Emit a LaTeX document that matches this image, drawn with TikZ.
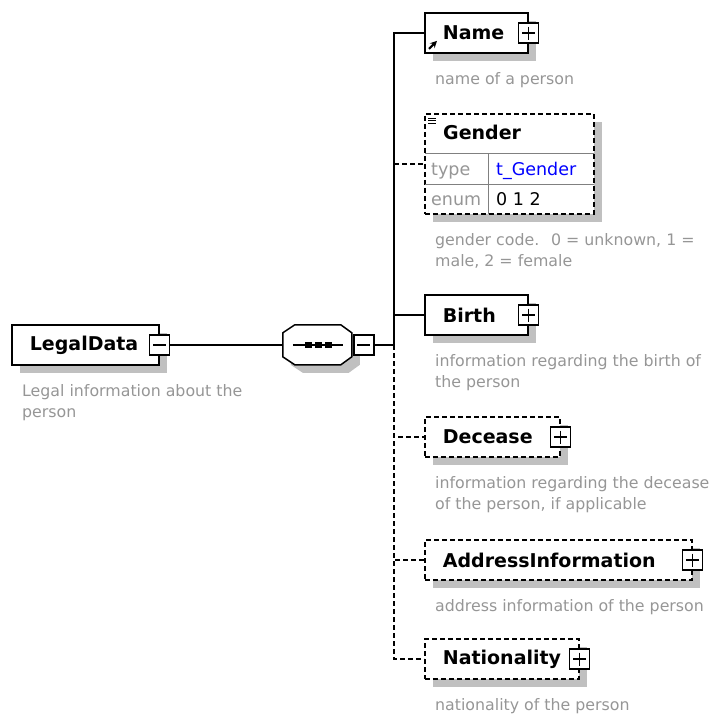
\documentclass[tikz,border=0pt]{standalone}
\usepackage{fontspec}
\setmainfont{DejaVu Sans}
\usetikzlibrary{positioning, shadows, arrows}
\definecolor{descgray}{RGB}{150,150,150}
\definecolor{linegray}{RGB}{128,128,128}
\definecolor{shadowgray}{RGB}{192,192,192}
\definecolor{typeblue}{RGB}{0,0,255}
\newcommand{\elemfont}{\fontsize{19}{19}\selectfont\bfseries}
\newcommand{\descfont}{\fontsize{15.8}{21}\selectfont}
\newcommand{\tabfont}{\fontsize{17.5}{17.5}\selectfont}
\tikzstyle{elem} = [draw, line width=1.7pt, fill=white, anchor=west, minimum height=40pt, inner xsep=18pt, align=left, font=\elemfont, drop shadow={shadow xshift=8pt, shadow yshift=-8pt, fill=shadowgray, opacity=1}]
\tikzstyle{optional} = [dash pattern=on 5pt off 3pt]
\tikzstyle{desc} = [text=descgray, font=\descfont, align=left, inner sep=0pt]
\tikzstyle{tabtext} = [font=\tabfont, inner sep=0pt, anchor=base west]
\tikzstyle{conn} = [line width=1.5pt]
\tikzstyle{optconn} = [line width=1.5pt, dash pattern=on 5pt off 3pt]
\tikzstyle{togglebox} = [draw, fill=white, line width=1.5pt, minimum size=20pt, inner sep=0pt]
\tikzstyle{collapsebox} = [togglebox, path picture={
  \draw[line width=1.5pt] ([xshift=3.5pt]path picture bounding box.west) -- ([xshift=-3.5pt]path picture bounding box.east);}]
\tikzstyle{expandbox} = [togglebox, path picture={
  \draw[line width=1.5pt] ([xshift=3.5pt]path picture bounding box.west) -- ([xshift=-3.5pt]path picture bounding box.east);
  \draw[line width=1.5pt] ([yshift=-3.5pt]path picture bounding box.north) -- ([yshift=3.5pt]path picture bounding box.south);}]
\newcommand{\octpath}{++(0,8) -- ++(12,-8) -- ++(46,0) -- ++(11,8) -- ++(0,24) -- ++(-11,8) -- ++(-46,0) -- ++(-12,-8) -- cycle}

\begin{document}
\begin{tikzpicture}[x=1pt, y=-1pt]
\useasboundingbox (0,0) rectangle (715,715);

% root element
\node[elem, text width=111pt] (legal) at (11,345) {LegalData};
\node[collapsebox] (legaltoggle) at (legal.east) {};
\node[desc, below right=18.5pt and 11pt of legal.south west] (legaldesc) {Legal information about the\\person};

% sequence
\node[minimum width=69pt, minimum height=40pt, inner sep=0pt] (seq) at (317.5,345) {};
\fill[shadowgray] ([shift={(8,8)}]seq.north west) \octpath;
\draw[conn, fill=white] (seq.north west) \octpath;
\draw[conn] ([xshift=10pt]seq.west) -- ([xshift=-9pt]seq.east);
\foreach \x in {-9,1,11}
  \fill ([xshift=\x pt]seq.center) +(-3.2,-3.2) rectangle +(3.2,3.2);
\node[collapsebox, right=1pt of seq] (seqtoggle) {};
\coordinate (fork) at (394,345);

% children
\node[elem, text width=67pt] (name) at (424,33) {Name};
\node[expandbox] (nametoggle) at (name.east) {};
\draw[line width=2pt, -stealth] ([xshift=5pt,yshift=5pt]name.south west) -- ([xshift=13pt,yshift=13pt]name.south west);
\node[desc, below right=18.5pt and 11pt of name.south west] (namedesc) {name of a person};

\node[elem, optional, anchor=north west, minimum width=169pt, minimum height=100pt] (gender) at (424,113) {};
\draw[linegray, line width=1pt] ([xshift=1pt,yshift=-40pt]gender.north west) -- ([xshift=-1pt,yshift=-40pt]gender.north east);
\draw[linegray, line width=1pt] ([xshift=1pt,yshift=30pt]gender.south west) -- ([xshift=-1pt,yshift=30pt]gender.south east);
\draw[linegray, line width=1pt] ([xshift=64pt,yshift=-40pt]gender.north west) -- ([xshift=64pt,yshift=1pt]gender.south west);
\foreach \k in {0,1,2}
  \draw[line width=0.8pt] ([xshift=4pt,yshift={-5pt-2.6pt*\k}]gender.north west) -- ++(8,0);
\node[font=\elemfont, inner sep=0pt, anchor=base west] (gendername) at (443,139) {Gender};
\node[tabtext, text=descgray] (gtype) at (431,175) {type};
\node[tabtext, text=typeblue] (gtypeval) at (496,175) {t\_Gender};
\node[tabtext, text=descgray] (genum) at (431,205) {enum};
\node[tabtext] (genumval) at (496,205) {0 1 2};
\node[desc, below right=18.5pt and 11pt of gender.south west] (genderdesc) {gender code.~ 0 = unknown, 1 =\\male, 2 = female};

\node[elem, text width=67pt] (birth) at (424,315) {Birth};
\node[expandbox] (birthtoggle) at (birth.east) {};
\node[desc, below right=18.5pt and 11pt of birth.south west] (birthdesc) {information regarding the birth of\\the person};

\node[elem, optional, text width=99pt] (decease) at (424,437) {Decease};
\node[expandbox] (deceasetoggle) at (decease.east) {};
\node[desc, below right=18.5pt and 11pt of decease.south west] (deceasedesc) {information regarding the decease\\of the person, if applicable};

\node[elem, optional, text width=231pt] (address) at (424,560) {AddressInformation};
\node[expandbox] (addresstoggle) at (address.east) {};
\node[desc, below right=18.5pt and 11pt of address.south west] (addressdesc) {address information of the person};

\node[elem, optional, text width=118pt] (nation) at (424,659) {Nationality};
\node[expandbox] (nationtoggle) at (nation.east) {};
\node[desc, below right=18.5pt and 11pt of nation.south west] (nationdesc) {nationality of the person};

% connectors
\draw[conn] (legaltoggle.east) -- (seq.west);
\draw[conn] (seqtoggle.east) -- (fork);
\draw[conn] (fork) |- (name.west);
\draw[conn] (fork) |- (birth.west);
\draw[optconn] (fork |- gender.west) -- (gender.west);
\foreach \n in {decease, address, nation}
  \draw[optconn] (fork) |- (\n.west);
\end{tikzpicture}
\end{document}
